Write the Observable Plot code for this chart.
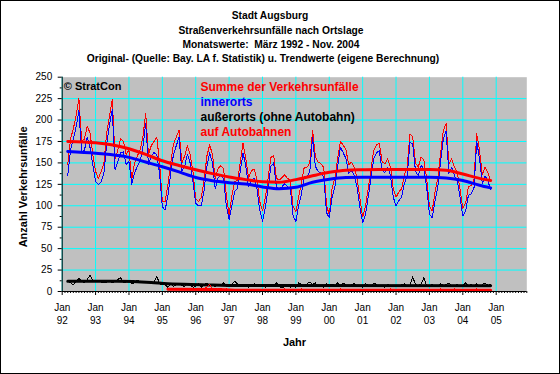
<!DOCTYPE html>
<html><head><meta charset="utf-8">
<script src="https://cdn.jsdelivr.net/npm/d3@7"></script>
<script src="https://cdn.jsdelivr.net/npm/@observablehq/plot@0.6"></script>
<style>
body{margin:0;background:#fff;}
#wrap{position:relative;width:560px;height:374px;overflow:hidden;background:#fff;font-family:"Liberation Sans",Arial,sans-serif;}
#frame{position:absolute;left:0;top:0;width:560px;height:374px;box-sizing:border-box;border:1px solid #000;pointer-events:none;}
#head{position:absolute;left:0;top:0;}
#chart{position:absolute;left:0;top:70px;}
</style></head><body>
<div id="wrap"><svg id="head" width="560" height="70"></svg><div id="chart"></div><div id="frame"></div></div>
<script>
// ---- texts ----
const titleLines = [
  "Stadt Augsburg",
  "Straßenverkehrsunfälle nach Ortslage",
  "Monatswerte:  März 1992 - Nov. 2004",
  "Original- (Quelle: Bay. LA f. Statistik) u. Trendwerte (eigene Berechnung)"
];
const legendLabels = ["Summe der Verkehrsunfälle", "innerorts", "außerorts (ohne Autobahn)", "auf Autobahnen"];
const legendColors = ["#ff0000", "#0000ff", "#000000", "#ff0000"];
const copyright = "© StratCon";
const xTitle = "Jahr";
const yTitle = "Anzahl Verkehrsunfälle";

// ---- axis ticks ----
const yearTickMonths = [0, 12, 24, 36, 48, 60, 72, 84, 96, 108, 120, 132, 144, 156];
const yearLabels = ["92", "93", "94", "95", "96", "97", "98", "99", "00", "01", "02", "03", "04", "05"];
const yTicks = [0, 25, 50, 75, 100, 125, 150, 175, 200, 225, 250];
const yGrid = [25, 50, 75, 100, 125, 150, 175, 200, 225];

// ---- monthly data: month index 0 = Jan 1992; series start Mar 1992 (index 2) ----
const startMonth = 2;
const total = [
  148, 178, 190, 205, 225, 175, 178, 193, 185, 160,
  140, 132, 140, 150, 185, 205, 224, 155, 165, 178, 175, 160,
  165, 130, 150, 158, 165, 180, 208, 160, 170, 175, 180, 150,
  105, 105, 125, 150, 172, 180, 188, 150, 158, 170, 160, 140,
  108, 105, 110, 130, 158, 171, 160, 132, 143, 147, 143, 112,
  90, 112, 128, 130, 150, 173, 155, 132, 141, 143, 130, 105,
  94, 109, 132, 156, 159, 132, 130, 133, 136, 132, 130, 99,
  93, 111, 126, 145, 145, 150, 188, 157, 151, 149, 145, 101,
  89, 120, 132, 155, 175, 171, 165, 148, 151, 145, 132, 109,
  87, 99, 120, 143, 165, 171, 173, 151, 149, 155, 145, 120,
  110, 116, 120, 136, 145, 184, 180, 150, 145, 157, 153, 132,
  100, 94, 116, 132, 161, 188, 196, 148, 155, 145, 139, 120,
  97, 103, 122, 124, 130, 184, 165, 136, 145, 139, 128
];
const innerorts = [
  135, 165, 178, 192, 211, 162, 165, 180, 168, 148,
  128, 125, 128, 138, 172, 195, 212, 142, 152, 162, 163, 148,
  152, 125, 138, 146, 152, 168, 196, 148, 158, 162, 160, 138,
  99, 95, 112, 138, 160, 170, 180, 140, 146, 160, 150, 128,
  103, 100, 100, 118, 146, 162, 150, 120, 132, 136, 132, 100,
  84, 100, 117, 120, 140, 162, 146, 122, 130, 132, 120, 95,
  82, 98, 120, 146, 150, 122, 120, 122, 126, 122, 120, 88,
  82, 100, 114, 134, 134, 140, 180, 146, 140, 138, 134, 92,
  86, 110, 122, 145, 168, 162, 155, 138, 141, 135, 122, 98,
  80, 90, 110, 133, 155, 162, 164, 141, 139, 145, 135, 110,
  100, 106, 110, 126, 135, 174, 172, 140, 135, 147, 143, 122,
  90, 86, 106, 122, 151, 178, 187, 138, 145, 135, 129, 110,
  88, 94, 112, 114, 120, 175, 155, 126, 135, 129, 119
];
const ausserorts = [
  13, 10, 8, 12, 15, 13, 10, 14, 19, 13,
  12, 12, 11, 10, 11, 13, 10, 12, 14, 16, 10, 11,
  12, 9, 10, 13, 11, 11, 10, 12, 9, 11, 18, 9,
  8, 8, 5, 9, 6, 8, 10, 7, 6, 9, 8, 5,
  6, 9, 5, 7, 10, 7, 8, 6, 9, 7, 10, 6,
  6, 8, 12, 9, 6, 7, 8, 5, 7, 9, 6, 8,
  6, 5, 7, 8, 7, 10, 6, 4, 6, 7, 5, 6,
  5, 10, 8, 6, 9, 11, 8, 10, 6, 7, 5, 9,
  7, 9, 6, 10, 6, 10, 7, 6, 8, 9, 6, 7,
  5, 9, 7, 6, 10, 8, 6, 7, 5, 8, 7, 6,
  7, 6, 8, 9, 6, 7, 17, 8, 7, 9, 16, 7,
  6, 8, 7, 6, 9, 7, 8, 10, 6, 7, 8, 6,
  7, 10, 6, 8, 7, 9, 6, 8, 10, 7, 8
];
// Autobahn series starts Mar 1995 (index 38)
const autobahnStart = 38;
const autobahn = [
  3, 2, 3, 4, 2, 3, 2, 3, 4, 2,
  3, 2, 4, 3, 5, 8, 3, 2, 3, 4, 2, 3,
  2, 3, 2, 1, 2, 3, 2, 1, 2, 3, 2, 1,
  2, 1, 2, 3, 1, 2, 1, 2, 3, 1, 2, 1,
  1, 2, 3, 1, 2, 1, 2, 1, 3, 2, 1, 2,
  2, 1, 2, 1, 3, 2, 1, 2, 1, 2, 3, 1,
  1, 2, 1, 3, 2, 1, 2, 1, 2, 1, 3, 2,
  2, 1, 2, 1, 2, 3, 1, 2, 1, 2, 1, 2,
  1, 2, 1, 2, 3, 1, 2, 1, 2, 3, 1, 2,
  2, 1, 2, 1, 2, 3, 1, 2, 1, 2, 1
];

// ---- trend values (read at these month indices) ----
const trendMonths = [2, 12, 24, 30, 36, 42, 48, 54, 60, 66, 72, 78, 84, 90, 96, 102, 108, 114, 120, 126, 132, 138, 144, 150, 154];
const trendTotal = [175, 173.5, 166.5, 160, 152.5, 147, 142, 137.5, 133.5, 130.5, 128, 127.5, 130.5, 135, 139, 141.5, 142, 142.3, 142.3, 142.3, 142.3, 141.5, 137, 132, 129.5];
const trendInner = [163.4, 161.3, 156.5, 151, 145.5, 139.5, 133, 129.3, 127, 125.3, 122, 119.8, 121.5, 127.5, 131, 133, 133.4, 133.4, 133.4, 133.4, 133.4, 132.5, 129.5, 124, 120.9];
const trendAusserMonths = [2, 20, 32, 38, 50, 64, 154];
const trendAusser = [12, 12, 10.5, 9, 8, 7, 6.8];
const trendAutobahnMonths = [38, 55, 62, 154];
const trendAutobahn = [2.5, 2.3, 1.6, 1.4];

// ---- build tables ----
const rows = total.map((v, k) => ({m: startMonth + k, total: v, inner: innerorts[k], ausser: ausserorts[k]}));
const abRows = autobahn.map((v, k) => ({m: autobahnStart + k, v}));
const trRows = trendMonths.map((m, k) => ({m, total: trendTotal[k], inner: trendInner[k]}));
const trA = trendAusserMonths.map((m, k) => ({m, v: trendAusser[k]}));
const trB = trendAutobahnMonths.map((m, k) => ({m, v: trendAutobahn[k]}));
const minorMonths = d3.range(0, 168).filter(m => m % 12 !== 0);
const minorY = d3.range(12.5, 250, 25);

// ---- header ----
const head = d3.select("#head");
const titleY = [19, 34, 48, 62];
const titleX = [270, 271, 271, 263];
titleLines.forEach((t, i) => {
  head.append("text").attr("x", titleX[i]).attr("y", titleY[i]).attr("text-anchor", "middle")
    .attr("font-family", "Liberation Sans, Arial, sans-serif").attr("font-weight", "bold")
    .attr("font-size", "10.25px").style("white-space", "pre").text(t);
});

const F = "Liberation Sans, Arial, sans-serif";
const crisp = "crispEdges";
const chart = Plot.plot({
  width: 560, height: 304,
  marginTop: 6.7, marginLeft: 61.7, marginRight: 33.7, marginBottom: 83,
  x: {domain: [0, 167]},
  y: {domain: [0, 250]},
  style: {fontFamily: F, fontSize: "10px", color: "#000", background: "transparent", overflow: "visible"},
  marks: [
    Plot.frame({fill: "#c0c0c0", stroke: "none"}),
    Plot.gridX(yearTickMonths, {stroke: "#00ffff", strokeOpacity: 1, strokeWidth: 1}),
    Plot.gridY(yGrid, {stroke: "#00ffff", strokeOpacity: 1, strokeWidth: 1}),
    Plot.lineY(rows, {x: "m", y: "total", stroke: "#ff0000", strokeWidth: 1, shapeRendering: crisp}),
    Plot.lineY(rows, {x: "m", y: "inner", stroke: "#0000ff", strokeWidth: 1, shapeRendering: crisp}),
    Plot.lineY(trRows, {x: "m", y: "total", stroke: "#ff0000", strokeWidth: 3, curve: "monotone-x"}),
    Plot.lineY(trRows, {x: "m", y: "inner", stroke: "#0000ff", strokeWidth: 3, curve: "monotone-x"}),
    Plot.lineY(rows, {x: "m", y: "ausser", stroke: "#000", strokeWidth: 1, shapeRendering: crisp}),
    Plot.lineY(trA, {x: "m", y: "v", stroke: "#000", strokeWidth: 3, curve: "monotone-x"}),
    Plot.lineY(abRows, {x: "m", y: "v", stroke: "#ff0000", strokeWidth: 1, shapeRendering: crisp}),
    Plot.lineY(trB, {x: "m", y: "v", stroke: "#ff0000", strokeWidth: 3, curve: "monotone-x"}),
    Plot.ruleX([0], {stroke: "#000"}),
    Plot.ruleY([0], {stroke: "#000"}),
    Plot.axisY(yTicks, {tickSize: 4, tickPadding: 6, label: null, fontSize: 10}),
    Plot.axisY(minorY, {tickSize: 2, tickFormat: () => "", label: null}),
    Plot.axisX(yearTickMonths, {tickSize: 4, tickPadding: 8, tickFormat: () => "Jan", label: null, fontSize: 10}),
    Plot.axisX(yearTickMonths, {tickSize: 0, tickPadding: 25, tickFormat: d => yearLabels[d / 12], label: null, fontSize: 10}),
    Plot.axisX(minorMonths, {tickSize: 2, tickFormat: () => "", label: null}),
    Plot.text([xTitle], {frameAnchor: "bottom", textAnchor: "middle", lineAnchor: "top", dy: 47, fontWeight: "bold", fontSize: 11}),
    Plot.text([yTitle], {frameAnchor: "left", textAnchor: "start", lineAnchor: "middle", rotate: -90, dx: -39.2, dy: 63, fontWeight: "bold", fontSize: 11}),
    Plot.text([copyright], {frameAnchor: "top-left", textAnchor: "start", lineAnchor: "top", dx: 1.6, dy: 4.8, fontWeight: "bold", fontSize: 11}),
    ...legendLabels.map((t, i) => Plot.text([t], {frameAnchor: "top-left", textAnchor: "start", lineAnchor: "top", dx: 138.3, dy: 4.8 + 15 * i, fill: legendColors[i], fontWeight: "bold", fontSize: 12}))
  ]
});
document.getElementById("chart").appendChild(chart);
</script>
</body></html>
